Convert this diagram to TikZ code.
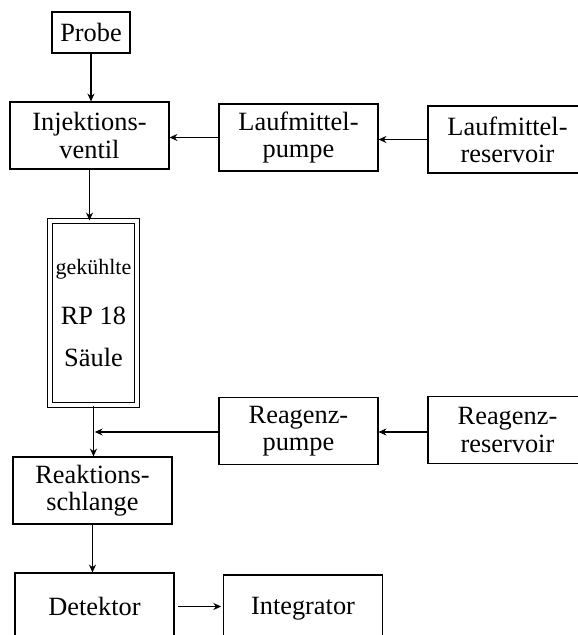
\documentclass[tikz,border=0pt]{standalone}
\usepackage{fontspec}
\setmainfont{Liberation Serif}
\usetikzlibrary{arrows.meta}
\begin{document}
\begin{tikzpicture}[
    box/.style={draw,line width=0.6pt,minimum width=3.18cm,minimum height=1.34cm,align=center,inner sep=1pt,
      font=\fontsize{15}{15.5}\selectfont},
    pfeil/.style={-{Stealth[length=4.5pt,width=4pt,inset=1.5pt]},line width=0.6pt}]
    \useasboundingbox (0,0) rectangle (11.56,12.7);
    \node[box,minimum width=1.56cm,minimum height=0.82cm] (probe) at (1.82,12.05) {Probe};
    \node[box] (injektor) at (1.79,9.99) {Injektions-\\ventil};
    \node[box] (lpumpe) at (5.97,9.95) {Laufmittel-\\pumpe};
    \node[box] (lreservoir) at (10.15,9.91) {Laufmittel-\\reservoir};
    \node[box,double,double distance=2.4pt,minimum width=1.74cm,minimum height=3.68cm] (saeule) at (1.87,6.44)
      {{\fontsize{12.5}{13}\selectfont gek\"uhlte}\\[13pt]RP 18\\[8pt]S\"aule};
    \node[box] (rpumpe) at (5.97,4.08) {Reagenz-\\pumpe};
    \node[box] (rreservoir) at (10.15,4.10) {Reagenz-\\reservoir};
    \node[box] (schlange) at (1.85,2.89) {Reaktions-\\schlange};
    \node[box] (detektor) at (1.89,0.57) {Detektor};
    \node[box] (integrator) at (6.06,0.53) {Integrator};
    \coordinate (misch) at (1.86,4.06);
    \draw[pfeil] (probe.south) -- (probe.south |- injektor.north);
    \draw[pfeil] (lpumpe.west) -- (lpumpe.west -| injektor.east);
    \draw[pfeil] (lreservoir.west) -- (lreservoir.west -| lpumpe.east);
    \draw[pfeil] (injektor.south) -- (injektor.south |- saeule.north);
    \draw[pfeil] (saeule.south) -- (saeule.south |- schlange.north);
    \draw[pfeil] (rpumpe.west |- misch) -- ([xshift=1pt]misch);
    \draw[pfeil] (rreservoir.west |- misch) -- (rpumpe.east |- misch);
    \draw[pfeil] (schlange.south) -- (schlange.south |- detektor.north);
    \draw[pfeil,shorten <=2pt,shorten >=1pt] (detektor.east) -- (integrator.west |- detektor.east);
\end{tikzpicture}
\end{document}
